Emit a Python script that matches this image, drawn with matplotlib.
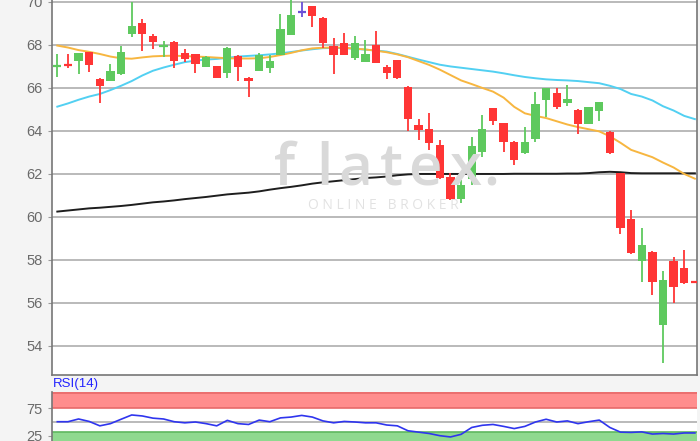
import numpy as np
import matplotlib.pyplot as plt

# daily candles
opens = [67.03, 67.08, 67.26, 67.66, 66.42, 66.34, 66.64, 68.50, 69.01, 68.42,
         67.94, 68.15, 67.64, 67.57, 66.99, 67.02, 66.71, 67.50, 66.48, 66.80,
         66.92, 67.53, 68.47, 69.55, 69.81, 69.27, 67.97, 68.08, 67.41, 67.22,
         68.00, 66.96, 67.30, 66.06, 64.26, 64.08, 63.35, 61.85, 60.84, 61.78,
         63.04, 65.06, 64.36, 63.50, 62.96, 63.61, 65.44, 65.75, 65.32, 64.98,
         64.33, 64.94, 63.97, 62.03, 59.89, 57.97, 58.39, 54.98, 57.97, 57.61,
         57.00]
highs = [67.57, 67.57, 67.63, 67.69, 66.44, 67.10, 67.97, 70.00, 69.19, 68.50,
         68.19, 68.17, 67.81, 67.59, 67.47, 67.03, 67.89, 67.52, 66.50, 67.64,
         67.53, 69.44, 70.10, 70.01, 69.83, 69.29, 68.31, 68.54, 68.42, 68.23,
         68.67, 67.07, 67.32, 66.08, 64.56, 64.85, 63.58, 62.06, 61.72, 63.73,
         64.74, 65.08, 64.38, 63.52, 64.20, 65.83, 66.01, 66.00, 66.14, 65.00,
         65.12, 65.35, 63.99, 62.05, 60.33, 59.47, 58.41, 57.50, 58.15, 58.47,
         57.00]
lows = [66.53, 66.92, 66.64, 66.76, 65.29, 66.32, 66.62, 68.39, 67.72, 67.80,
        67.43, 66.92, 67.22, 66.68, 66.98, 66.44, 66.45, 66.30, 65.60, 66.78,
        66.68, 67.51, 68.45, 69.29, 68.85, 67.85, 66.65, 67.51, 67.30, 67.20,
        67.16, 66.40, 66.43, 64.00, 63.58, 63.12, 61.78, 60.80, 60.67, 61.49,
        62.80, 64.28, 63.01, 62.42, 62.94, 63.50, 64.67, 65.02, 65.16, 63.84,
        64.31, 64.48, 62.94, 59.21, 58.29, 56.99, 56.37, 53.22, 55.99, 56.90,
        56.98]
closes = [67.05, 67.06, 67.61, 67.07, 66.09, 66.79, 67.69, 68.90, 68.50, 68.15,
          67.96, 67.26, 67.35, 67.12, 67.46, 66.45, 67.87, 66.99, 66.34, 67.53,
          67.26, 68.73, 69.40, 69.55, 69.35, 68.08, 67.53, 67.53, 68.11, 67.58,
          67.18, 66.68, 66.45, 64.54, 64.05, 63.46, 61.80, 60.82, 61.49, 63.28,
          64.10, 64.48, 63.50, 62.65, 63.50, 65.26, 65.99, 65.10, 65.47, 64.33,
          65.10, 65.33, 62.96, 59.50, 58.31, 58.70, 56.99, 57.07, 56.73, 56.92,
          56.98]

# moving averages
ma_fast = [67.97, 67.88, 67.76, 67.68, 67.58, 67.46, 67.38, 67.36, 67.42, 67.47,
           67.49, 67.50, 67.48, 67.46, 67.44, 67.41, 67.38, 67.37, 67.37, 67.38,
           67.44, 67.53, 67.63, 67.75, 67.84, 67.87, 67.88, 67.87, 67.83, 67.79,
           67.73, 67.66, 67.56, 67.43, 67.25, 67.07, 66.85, 66.60, 66.35, 66.18,
           66.00, 65.83, 65.55, 65.12, 64.82, 64.70, 64.60, 64.45, 64.30, 64.18,
           64.08, 63.98, 63.75, 63.45, 63.12, 62.95, 62.78, 62.53, 62.30, 62.00,
           61.78]
ma_mid = [65.13, 65.28, 65.45, 65.60, 65.72, 65.90, 66.10, 66.32, 66.58, 66.80,
          66.95, 67.08, 67.20, 67.27, 67.32, 67.35, 67.40, 67.46, 67.49, 67.52,
          67.56, 67.61, 67.67, 67.74, 67.80, 67.85, 67.86, 67.85, 67.82, 67.78,
          67.74, 67.69, 67.58, 67.45, 67.32, 67.20, 67.08, 67.00, 66.94, 66.88,
          66.82, 66.76, 66.68, 66.59, 66.51, 66.45, 66.40, 66.37, 66.35, 66.32,
          66.27, 66.22, 66.10, 65.95, 65.72, 65.60, 65.42, 65.15, 64.95, 64.70,
          64.55]
ma_long = [60.25, 60.30, 60.35, 60.40, 60.43, 60.47, 60.51, 60.56, 60.62, 60.68,
           60.72, 60.77, 60.83, 60.88, 60.93, 60.99, 61.05, 61.09, 61.13, 61.19,
           61.27, 61.34, 61.40, 61.47, 61.55, 61.61, 61.66, 61.71, 61.76, 61.81,
           61.84, 61.88, 61.94, 61.98, 62.00, 62.00, 62.00, 62.00, 62.00, 62.00,
           62.00, 62.00, 62.00, 62.01, 62.01, 62.01, 62.01, 62.01, 62.02, 62.02,
           62.04, 62.08, 62.10, 62.08, 62.04, 62.03, 62.03, 62.03, 62.03, 62.03,
           62.03]

rsi = [50.5, 50.5, 55.5, 51, 43, 47, 55, 62.8, 61, 57,
       55.5, 50.5, 48.5, 50, 47, 43, 53, 47, 45.5, 53.5,
       50.5, 57.5, 59, 62, 59, 52, 48.5, 51, 50, 48.5,
       48.5, 44.5, 43, 34, 31.5, 29, 25, 22.7, 27.5, 40,
       44, 45.5, 42, 38, 42, 50, 55, 50, 52, 47,
       50.5, 53.5, 40, 31.5, 31, 32, 28, 29, 28, 30,
       30]

price_ticks = [54, 56, 58, 60, 62, 64, 66, 68, 70]
rsi_ticks = [25, 75]

GREEN = '#5ec95e'
RED = '#ff3535'
PURPLE = '#6a4fd8'
GRID = '#b4b4b4'
TXT = '#6a6a6a'

x = np.arange(len(opens))
o = np.array(opens)
c = np.array(closes)
colors = np.where(c > o, GREEN, np.where(c < o, RED, PURPLE))

fig = plt.figure(figsize=(7, 4.41), dpi=100, facecolor='#f4f4f4')
plt.rcParams['font.family'] = ['Liberation Sans', 'DejaVu Sans']

W, H = 700, 441
ax = fig.add_axes([52 / W, 66 / H, 645 / W, 375 / H])
ax.set_xlim(-0.5, 60.2)
ax.set_ylim(52.65, 70.09)
ax.set_yticks(price_ticks)
ax.set_xticks([])
for t in price_ticks:
    ax.axhline(t, color=GRID, lw=1.3, zorder=0.5)
ax.tick_params(axis='y', length=3, color='#999999', labelcolor=TXT,
               labelsize=10.5, pad=4)
ax.spines['top'].set_visible(False)
for s in ['left', 'bottom', 'right']:
    ax.spines[s].set_color('#777777')
    ax.spines[s].set_linewidth(1.2)

# watermark
wm_letters = ['f', 'l', 'a', 't', 'e', 'x', '.']
wm_x = [285, 324, 355, 391, 425, 465, 491]
for ch, px in zip(wm_letters, wm_x):
    fig.text(px / W, 1 - 185 / H, ch, fontsize=42, color='#d9d9d9',
             family='Open Sans', weight='semibold', ha='center',
             va='baseline', zorder=0.8)
fig.text(383 / W, 1 - 206 / H, 'O N L I N E   B R O K E R', fontsize=10,
         color='#e2e2e2', family='Open Sans', ha='center', va='center')

# moving averages
ax.plot(x, ma_long, color='#1e1e1e', lw=1.4, zorder=2)
ax.plot(x, ma_mid, color='#52d0f2', lw=1.4, zorder=2)
ax.plot(x, ma_fast, color='#f7b640', lw=1.4, zorder=2)

# candles
ax.vlines(x, lows, highs, colors=colors, lw=1.3, zorder=3)
body = np.abs(c - o)
big = body >= 0.05
ax.bar(x[big], body[big], bottom=np.minimum(o, c)[big], width=0.78,
       color=colors[big], zorder=4)
small = ~big
ax.hlines(((o + c) / 2)[small], x[small] - 0.39, x[small] + 0.39,
          colors=colors[small], lw=1.6, zorder=4)

# RSI panel
rax = fig.add_axes([52 / W, -8.4 / H, 645 / W, 57 / H])
rax.set_xlim(-0.5, 60.2)
rax.set_ylim(0, 104)
rax.axhspan(75, 104, color='#ff8d8d', lw=0, zorder=0.5)
rax.axhline(75, color='#e86a6a', lw=1.2, zorder=0.6)
rax.axhline(103, color='#e86a6a', lw=1.2, zorder=0.6)
rax.axhspan(0, 32.3, color='#8fd98f', lw=0, zorder=0.5)
rax.axhline(32.3, color='#5fb85f', lw=1.2, zorder=0.6)
rax.axhline(50, color=GRID, lw=1.3, zorder=0.6)
rax.plot(x, rsi, color='#2f35ee', lw=1.2, zorder=2)
rax.set_yticks(rsi_ticks)
rax.set_xticks([])
rax.tick_params(axis='y', length=3, color='#999999', labelcolor=TXT,
                labelsize=10.5, pad=4)
for s in ['top', 'right', 'bottom']:
    rax.spines[s].set_visible(False)
rax.spines['left'].set_color('#777777')
rax.spines['left'].set_linewidth(1.2)
fig.text(53 / W, 1 - 384 / H, 'RSI(14)', color='#2424ff', fontsize=9.5,
         va='center', ha='left')

fig.savefig('out.png', dpi=100, facecolor=fig.get_facecolor())
